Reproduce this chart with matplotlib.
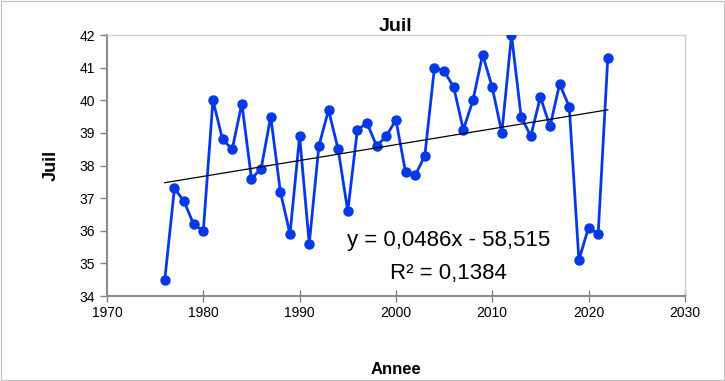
import matplotlib
matplotlib.use("Agg")
import matplotlib.pyplot as plt
import numpy as np

years = list(range(1976, 2023))
values = [34.5, 37.3, 36.9, 36.2, 36.0, 40.0, 38.8, 38.5, 39.9, 37.6,
          37.9, 39.5, 37.2, 35.9, 38.9, 35.6, 38.6, 39.7, 38.5, 36.6,
          39.1, 39.3, 38.6, 38.9, 39.4, 37.8, 37.7, 38.3, 41.0, 40.9,
          40.4, 39.1, 40.0, 41.4, 40.4, 39.0, 42.0, 39.5, 38.9, 40.1,
          39.2, 40.5, 39.8, 35.1, 36.1, 35.9, 41.3]
xticks = [1970, 1980, 1990, 2000, 2010, 2020, 2030]
yticks = [34, 35, 36, 37, 38, 39, 40, 41, 42]
eq_text = "y = 0,0486x - 58,515"
r2_text = "R² = 0,1384"

plt.rcParams['font.family'] = ['Liberation Sans', 'DejaVu Sans']

fig = plt.figure(figsize=(7.25, 3.81), dpi=100)
fig.patches.append(plt.Rectangle((0.002, 0.003), 0.996, 0.994, transform=fig.transFigure,
                                 fill=False, edgecolor='#bfbfbf', linewidth=0.8))
ax = fig.add_axes([0.1476, 0.223, 0.797, 0.685])

x = np.array(years)
y = np.array(values)
ax.plot(x, y, color='#0539E8', linewidth=2.0, marker='o', markersize=6.5, zorder=3)

coef = np.polyfit(x, y, 1)
xf = np.array([x.min(), x.max()])
ax.plot(xf, np.polyval(coef, xf), color='black', linewidth=0.9, zorder=4)

ax.set_xlim(1970, 2030)
ax.set_ylim(34, 42)
ax.set_xticks(xticks)
ax.set_yticks(yticks)
ax.tick_params(axis='both', labelsize=10, color='#808080', length=5, width=1)
ax.tick_params(axis='x', direction='inout', length=8)

for s in ['left', 'bottom']:
    ax.spines[s].set_color('#8c8c8c')
    ax.spines[s].set_linewidth(1.5)
for s in ['top', 'right']:
    ax.spines[s].set_color('#d0d0d0')
    ax.spines[s].set_linewidth(1.0)

ax.set_title("Juil", fontsize=14, fontweight='bold', pad=3)
ax.set_ylabel("Juil", fontsize=13, fontweight='bold', labelpad=14)
ax.set_xlabel("Annee", fontsize=12, fontweight='bold', labelpad=30)

ax.text(2005.5, 35.71, eq_text, fontsize=16, ha='center', va='center')
ax.text(2005.5, 34.70, r2_text, fontsize=16, ha='center', va='center')

fig.savefig("out.png", dpi=100)
